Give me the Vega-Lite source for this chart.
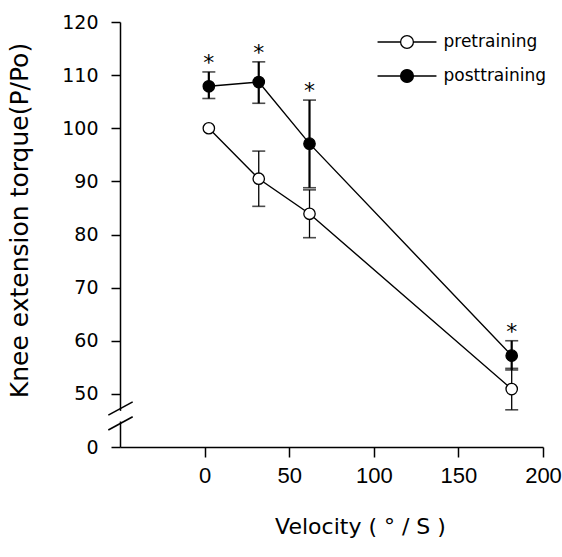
{
  "$schema": "https://vega.github.io/schema/vega-lite/v6.json",
  "width": 423,
  "height": 425,
  "autosize": "none",
  "padding": {"left": 120, "top": 22, "right": 19, "bottom": 110},
  "background": "white",
  "config": {
    "view": {"stroke": null},
    "font": "DejaVu Sans",
    "axis": {"domainColor": "black", "tickColor": "black", "labelColor": "black", "titleColor": "black", "grid": false, "domainWidth": 1.5, "tickWidth": 1.5, "titleFontWeight": "normal"}
  },
  "datasets": {
    "pts": [
      {"series": "pretraining", "velocity": 2.5, "torque": 100, "lo": null, "hi": null, "star": false},
      {"series": "pretraining", "velocity": 32, "torque": 90.5, "lo": 85.3, "hi": 95.7, "star": false},
      {"series": "pretraining", "velocity": 62, "torque": 83.9, "lo": 79.4, "hi": 88.4, "star": false},
      {"series": "pretraining", "velocity": 181.5, "torque": 50.9, "lo": 47.0, "hi": 54.8, "star": false},
      {"series": "posttraining", "velocity": 2.5, "torque": 107.9, "lo": 105.6, "hi": 110.6, "star": true},
      {"series": "posttraining", "velocity": 32, "torque": 108.7, "lo": 104.7, "hi": 112.5, "star": true},
      {"series": "posttraining", "velocity": 62, "torque": 97.1, "lo": 88.8, "hi": 105.3, "star": true},
      {"series": "posttraining", "velocity": 181.5, "torque": 57.2, "lo": 54.5, "hi": 60.0, "star": true}
    ],
    "brk": [
      {"x": -56.9, "y": 46.0, "x2": -42.5, "y2": 48.5},
      {"x": -56.9, "y": 43.2, "x2": -42.5, "y2": 45.7}
    ],
    "gap": [
      {"x": -50, "y": 44.8, "y2": 46.8}
    ]
  },
  "encoding": {
    "x": {
      "field": "velocity", "type": "quantitative",
      "scale": {"domain": [-50, 200], "nice": false, "zero": false},
      "axis": {
        "values": [0, 50, 100, 150, 200], "title": "Velocity  ( ° / S )",
        "titleFont": "DejaVu Sans", "titleFontSize": 22, "titleX": 240, "titleY": 86, "titleBaseline": "alphabetic", "titleAlign": "center",
        "labelFont": "Liberation Sans", "labelFontSize": 22, "tickSize": 10, "labelPadding": 8, "labelFlush": false
      }
    },
    "y": {
      "field": "torque", "type": "quantitative",
      "scale": {"domain": [40, 120], "nice": false, "zero": false},
      "axis": {
        "values": [40, 50, 60, 70, 80, 90, 100, 110, 120],
        "labelExpr": "datum.value == 40 ? '0' : datum.label",
        "title": "Knee extension torque(P/Po)",
        "titleFont": "DejaVu Sans", "titleFontSize": 25, "titleX": -93, "titleY": 198, "titleBaseline": "alphabetic", "titleAlign": "center", "titleAngle": -90,
        "labelFont": "DejaVu Sans", "labelFontSize": 19, "tickSize": 9, "labelPadding": 13
      }
    }
  },
  "layer": [
    {
      "data": {"name": "pts"},
      "mark": {"type": "line", "color": "black", "strokeWidth": 1.4},
      "encoding": {"detail": {"field": "series"}}
    },
    {
      "data": {"name": "pts"},
      "transform": [{"filter": "isValid(datum.hi) && datum.series == 'pretraining'"}],
      "mark": {"type": "rule", "color": "black", "strokeWidth": 1.3},
      "encoding": {
        "y": {"field": "lo", "type": "quantitative"},
        "y2": {"field": "hi"}
      }
    },
    {
      "data": {"name": "pts"},
      "transform": [{"filter": "isValid(datum.hi) && datum.series == 'posttraining'"}],
      "mark": {"type": "rule", "color": "black", "strokeWidth": 2.2},
      "encoding": {
        "y": {"field": "lo", "type": "quantitative"},
        "y2": {"field": "hi"}
      }
    },
    {
      "data": {"name": "pts"},
      "transform": [{"filter": "isValid(datum.hi)"}],
      "mark": {"type": "tick", "orient": "horizontal", "size": 13, "thickness": 1.6, "color": "black"},
      "encoding": {"y": {"field": "lo", "type": "quantitative"}}
    },
    {
      "data": {"name": "pts"},
      "transform": [{"filter": "isValid(datum.hi)"}],
      "mark": {"type": "tick", "orient": "horizontal", "size": 13, "thickness": 1.6, "color": "black"},
      "encoding": {"y": {"field": "hi", "type": "quantitative"}}
    },
    {
      "data": {"name": "pts"},
      "mark": {"type": "point", "filled": true, "size": 130, "stroke": "black", "strokeWidth": 1.3, "opacity": 1},
      "encoding": {
        "fill": {
          "field": "series", "type": "nominal",
          "scale": {"domain": ["pretraining", "posttraining"], "range": ["white", "black"]},
          "legend": {
            "orient": "none", "legendX": 278.5, "legendY": 11.5, "padding": 0, "title": null,
            "symbolType": "M-4.6,0L-1,0M1,0L4.6,0M-1,0A1,1,0,1,0,1,0A1,1,0,1,0,-1,0Z",
            "symbolSize": 164, "symbolStrokeColor": "black", "symbolStrokeWidth": 1.3, "symbolOpacity": 1,
            "labelFont": "DejaVu Sans", "labelFontSize": 17, "labelColor": "black", "labelOffset": 28, "rowPadding": 15
          }
        }
      }
    },
    {
      "data": {"name": "pts"},
      "transform": [{"filter": "datum.star"}],
      "mark": {"type": "text", "text": "*", "font": "DejaVu Sans", "fontSize": 22, "baseline": "alphabetic", "dy": -2, "color": "black"},
      "encoding": {"y": {"field": "hi", "type": "quantitative"}}
    },
    {
      "data": {"name": "gap"},
      "mark": {"type": "rule", "color": "white", "strokeWidth": 4},
      "encoding": {
        "x": {"field": "x", "type": "quantitative"},
        "y": {"field": "y", "type": "quantitative"},
        "y2": {"field": "y2"}
      }
    },
    {
      "data": {"name": "brk"},
      "mark": {"type": "rule", "color": "black", "strokeWidth": 1.6},
      "encoding": {
        "x": {"field": "x", "type": "quantitative"},
        "x2": {"field": "x2"},
        "y": {"field": "y", "type": "quantitative"},
        "y2": {"field": "y2"}
      }
    }
  ]
}
